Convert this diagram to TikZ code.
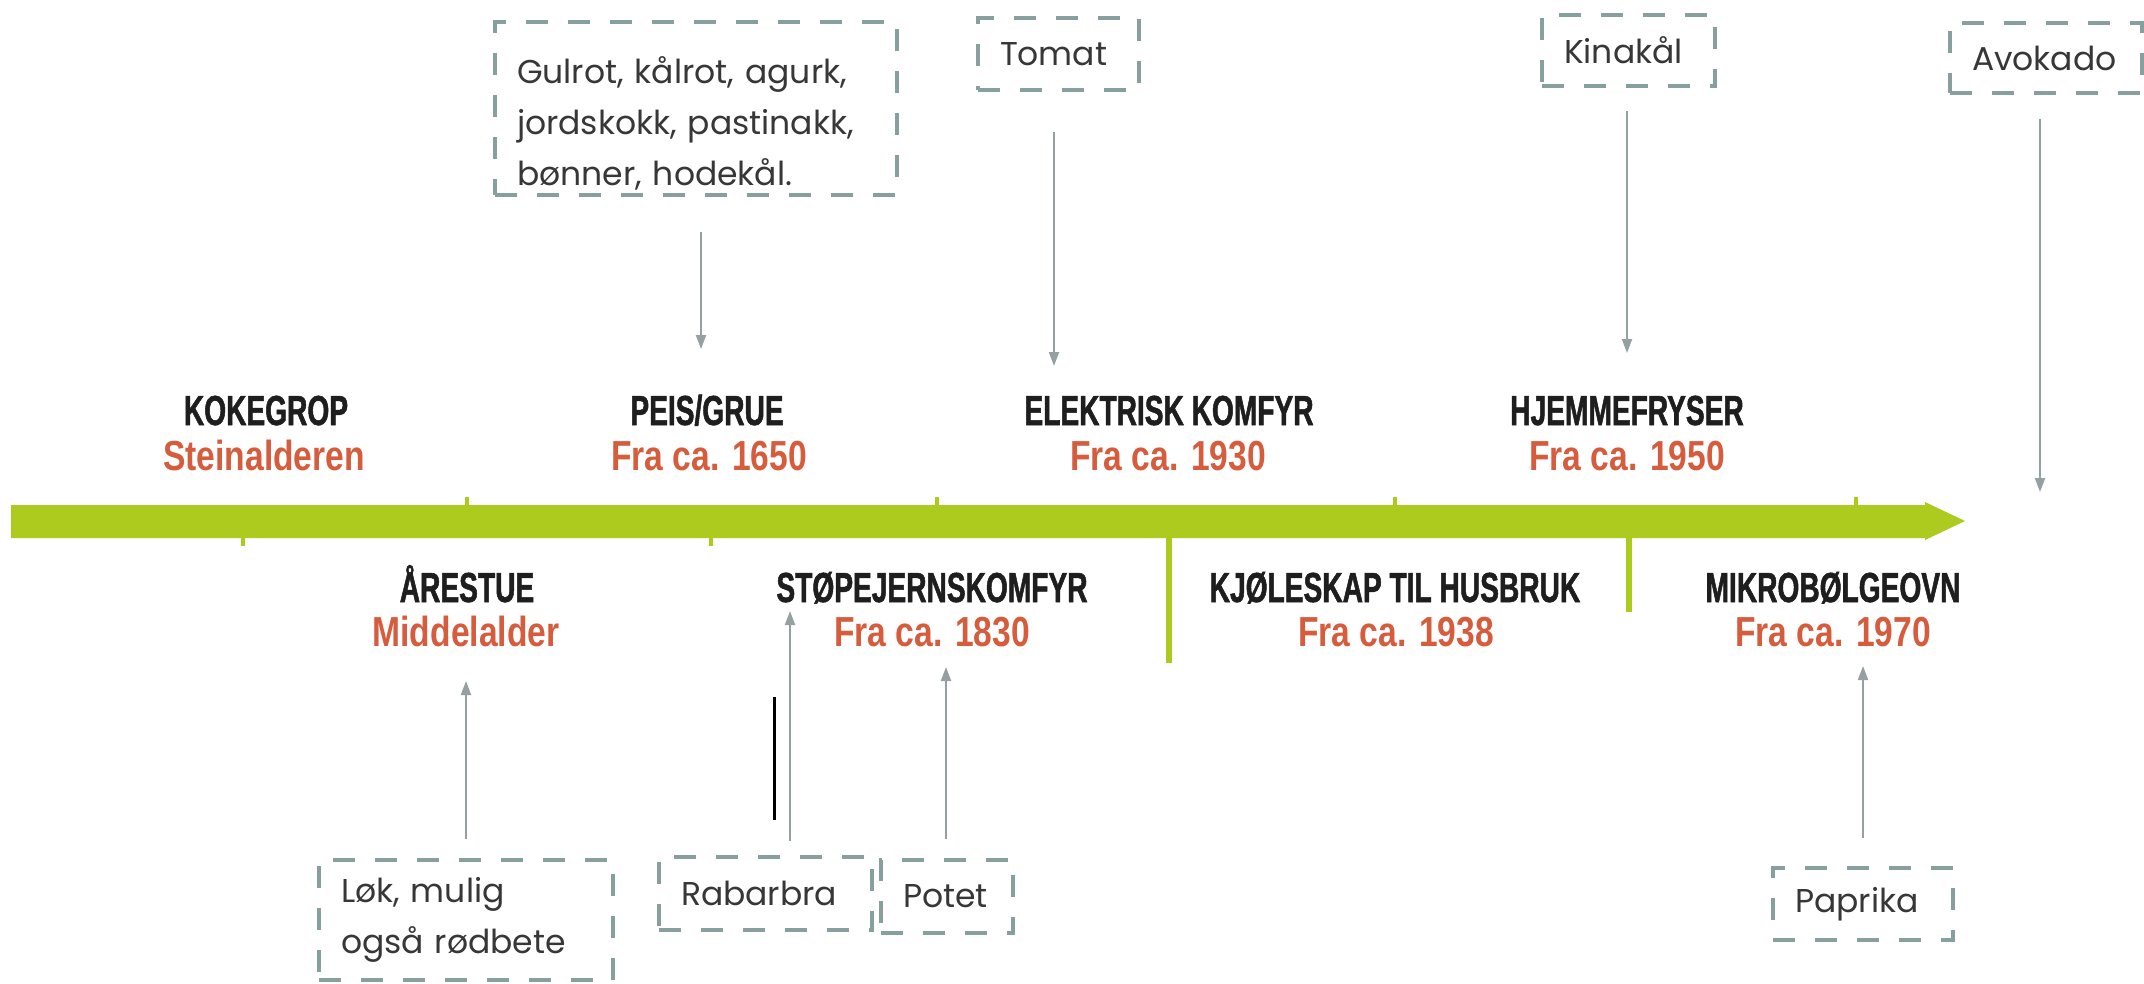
\documentclass[tikz,border=0pt]{standalone}
\usepackage{fontspec}
\usetikzlibrary{arrows.meta}
\newfontfamily\titlef{Liberation Sans}[FakeStretch=0.67,FakeBold=1.2]
\newfontfamily\datef{Liberation Sans}[FakeStretch=0.8]
\newfontfamily\boxf{Poppins}
\definecolor{barg}{RGB}{172,203,30}
\definecolor{datec}{RGB}{214,92,62}
\definecolor{titc}{RGB}{30,30,30}
\definecolor{dashc}{RGB}{135,160,158}
\definecolor{arrc}{RGB}{150,160,160}
\definecolor{boxt}{RGB}{55,55,55}
\begin{document}
\begin{tikzpicture}[x=1pt,y=-1pt,
  title/.style={anchor=base, inner sep=0pt, text=titc, font=\titlef\bfseries\fontsize{42}{42}\selectfont},
  date/.style={anchor=base, inner sep=0pt, text=datec, font=\datef\bfseries\fontsize{42}{42}\selectfont},
  vbox/.style={draw=dashc, line width=3.5pt, dash pattern=on 22pt off 20pt, text=boxt,
    font=\boxf\fontsize{33}{51}\selectfont, align=left, inner xsep=22pt, inner ysep=0pt},
  conn/.style={draw=arrc, line width=2pt, -{Triangle[width=10pt,length=14pt]}},
  barline/.style={draw=barg, line width=6pt},
]
\useasboundingbox (0,0) rectangle (2144,983);
\fill[white] (0,0) rectangle (2144,983);

% timeline bar
\fill[barg] (11,505) -- (1925,505) -- (1925,502) -- (1965,521) -- (1925,540) -- (1925,538) -- (11,538) -- cycle;
% small ticks
\fill[barg] (241,538) rectangle (245,546);
\fill[barg] (709,538) rectangle (713,546);
\fill[barg] (465,497) rectangle (469,505);
\fill[barg] (935,497) rectangle (939,505);
\fill[barg] (1393,497) rectangle (1397,505);
\fill[barg] (1854,497) rectangle (1858,505);
% vertical green lines
\draw[barline] (1169,536) -- (1169,663);
\draw[barline] (1629,536) -- (1629,612);

% events above
\node[title] (t1) at (266,425) {KOKEGROP};
\node[date]  (d1) at (264,470) {Steinalderen};
\node[title] (t3) at (707,425) {PEIS/GRUE};
\node[date]  (d3) at (709,470) {Fra ca. 1650};
\node[title] (t5) at (1169,425) {ELEKTRISK KOMFYR};
\node[date]  (d5) at (1168,470) {Fra ca. 1930};
\node[title] (t7) at (1627,425) {HJEMMEFRYSER};
\node[date]  (d7) at (1627,470) {Fra ca. 1950};
% events below
\node[title] (t2) at (467,602) {ÅRESTUE};
\node[date]  (d2) at (466,646) {Middelalder};
\node[title] (t4) at (932,602) {STØPEJERNSKOMFYR};
\node[date]  (d4) at (932,646) {Fra ca. 1830};
\node[title] (t6) at (1395,602) {KJØLESKAP TIL HUSBRUK};
\node[date]  (d6) at (1396,646) {Fra ca. 1938};
\node[title] (t8) at (1833,602) {MIKROBØLGEOVN};
\node[date]  (d8) at (1833,646) {Fra ca. 1970};

% vegetable boxes
\node[vbox, text width=358pt, minimum height=173pt] (gul) at (696,108.5)
  {\rule{0pt}{56pt}Gulrot, kålrot, agurk,\\jordskokk, pastinakk,\\bønner, hodekål.};
\node[vbox, text width=117pt, minimum height=72pt] (tom) at (1058.5,54) {Tomat};
\node[vbox, text width=129pt, minimum height=71pt] (kin) at (1628.5,50.5) {Kinakål};
\node[vbox, text width=148pt, minimum height=70pt] (avo) at (2046,58) {Avokado};
\node[vbox, text width=250pt, minimum height=120pt] (lok) at (466,920) {Løk, mulig\\også rødbete};
\node[vbox, text width=169pt, minimum height=73pt] (rab) at (765.5,893.5) {Rabarbra};
\node[vbox, text width=88pt, minimum height=73pt] (pot) at (947,896.5) {Potet};
\node[vbox, text width=136pt, minimum height=72pt] (pap) at (1863,904) {Paprika};

% arrow tips
\coordinate (gtip) at (701,349);
\coordinate (ttip) at (1054,366);
\coordinate (ktip) at (1627,353);
\coordinate (atip) at (2040,492);
\coordinate (ltip) at (466,681);
\coordinate (rtip) at (790,611);
\coordinate (ptip) at (946,667);
\coordinate (qtip) at (1863,666);

\draw[conn, shorten <=35pt] (gul.south -| gtip) -- (gtip);
\draw[conn, shorten <=40pt] (tom.south -| ttip) -- (ttip);
\draw[conn, shorten <=23pt] (kin.south -| ktip) -- (ktip);
\draw[conn, shorten <=24pt] (avo.south -| atip) -- (atip);
\draw[conn, shorten <=19pt] (lok.north -| ltip) -- (ltip);
\draw[conn, shorten <=14pt] (rab.north -| rtip) -- (rtip);
\draw[conn, shorten <=19pt] (pot.north -| ptip) -- (ptip);
\draw[conn, shorten <=28pt] (pap.north -| qtip) -- (qtip);

% short black stroke
\coordinate (bl1) at (774,697);
\coordinate (bl2) at (774,820);
\draw[black, line width=3pt] (bl1) -- (bl2);
\end{tikzpicture}
\end{document}
